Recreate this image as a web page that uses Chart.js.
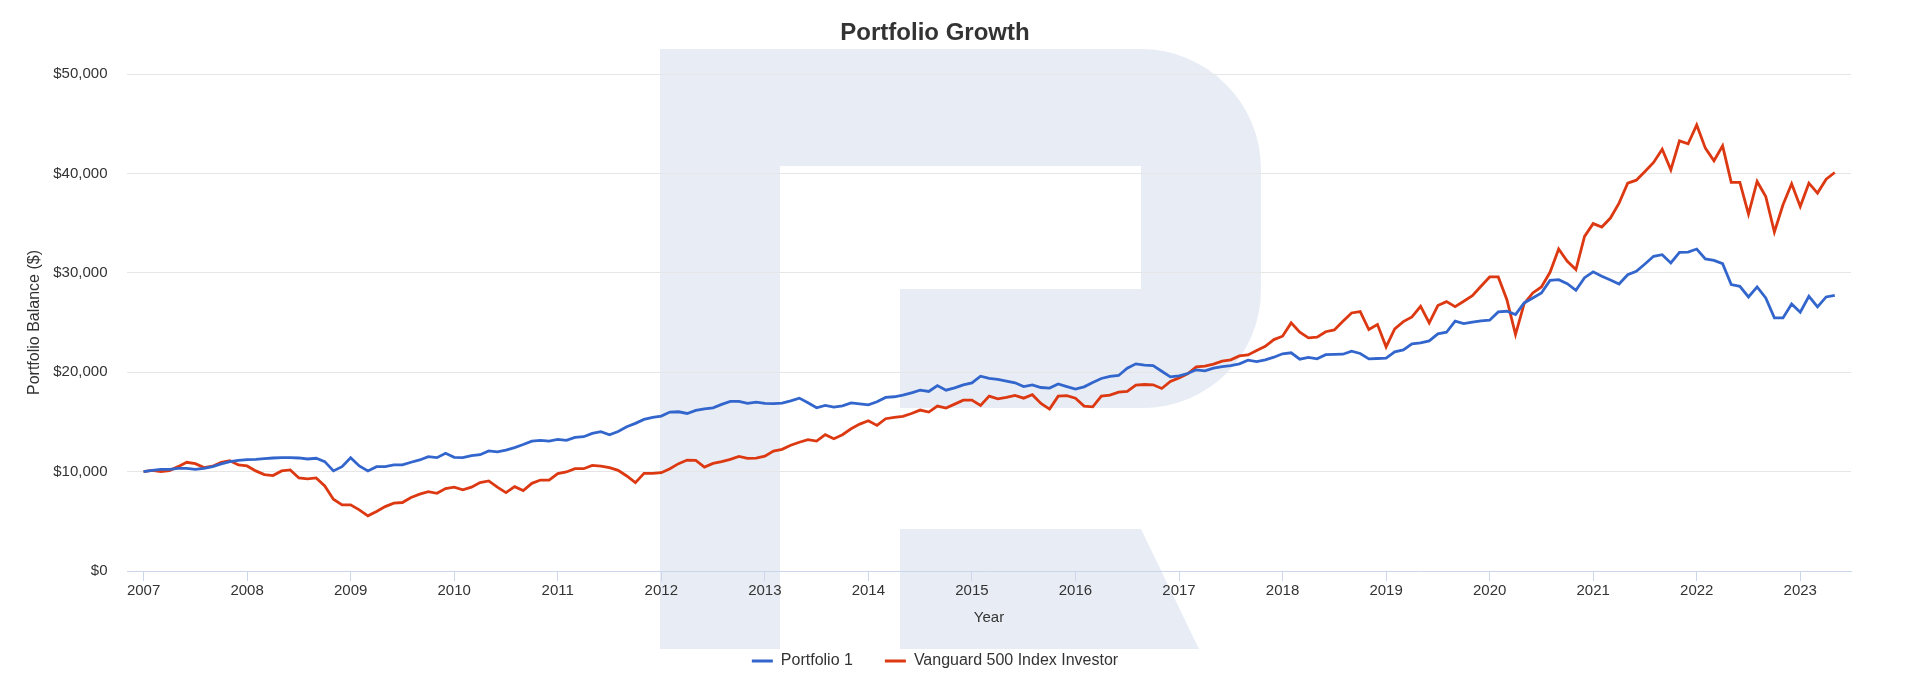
<!DOCTYPE html>
<html>
<head>
<meta charset="utf-8">
<title>Portfolio Growth</title>
<script src="https://cdn.jsdelivr.net/npm/chart.js@4/dist/chart.umd.min.js"></script>
<style>
  html, body { margin: 0; padding: 0; background: #ffffff; }
  #wrap { position: relative; width: 1920px; height: 699px; overflow: hidden; }
  #mark { position: absolute; left: 0; top: 0; z-index: 0; }
  #chart { position: relative; z-index: 1; }
</style>
</head>
<body>
<div id="wrap">
  <svg id="mark" width="1920" height="699" viewBox="0 0 1920 699">
    <path fill="#e8edf5" d="M660 49 H1141 A120 120 0 0 1 1261 169 V290 A118 118 0 0 1 1143 408 H900 V289 H1141 V166 H780 V649 H660 Z"/>
    <path fill="#e8edf5" d="M900 529 H1141 L1199 649 H900 Z"/>
  </svg>
  <canvas id="chart" width="1920" height="699"></canvas>
</div>
<script>
// ---- data (monthly balances, first point = Jan 2007) ----
const START_YEAR = 2007;
const yearTicks = [2007, 2008, 2009, 2010, 2011, 2012, 2013, 2014, 2015, 2016, 2017, 2018, 2019, 2020, 2021, 2022, 2023];
const seriesNames = ['Portfolio 1', 'Vanguard 500 Index Investor'];

const portfolio1 = [
  10000,10130,10230,10230,10330,10330,10230,10330,10500,10770,11000,11140,
  11200,11240,11300,11370,11400,11400,11370,11270,11340,11000,10070,10500,
  11400,10570,10070,10500,10500,10670,10670,10940,11170,11500,11400,11840,
  11440,11400,11600,11700,12080,11980,12170,12420,12720,13070,13140,13070,
  13240,13140,13440,13510,13840,14010,13710,14040,14510,14850,15250,15450,
  15580,15990,16020,15850,16150,16320,16420,16760,17060,17060,16860,16990,
  16870,16840,16890,17120,17390,16920,16420,16660,16490,16620,16920,16820,
  16720,17020,17460,17530,17690,17930,18190,18060,18660,18190,18430,18730,
  18930,19600,19370,19270,19100,18930,18560,18730,18460,18400,18810,18550,
  18300,18530,18970,19370,19570,19670,20400,20840,20710,20670,20100,19530,
  19640,19870,20240,20140,20400,20570,20670,20840,21210,21070,21240,21510,
  21850,21950,21310,21480,21340,21760,21790,21810,22110,21880,21340,21380,
  21410,22050,22250,22850,22950,23150,23850,24020,25130,24890,25030,25160,
  25230,26060,26130,25800,26970,27470,27970,29240,29310,28910,28240,29510,
  30100,29650,29280,28880,29810,30150,30890,31660,31820,30990,32060,32090,
  32390,31390,31250,30920,28810,28640,27570,28580,27470,25460,25460,26870,
  26030,27640,26570,27570,27740
];

const vanguard500 = [
  10000,10130,10000,10100,10500,10940,10800,10400,10540,10940,11100,10670,
  10570,10070,9700,9600,10070,10170,9360,9260,9360,8560,7220,6650,
  6650,6150,5550,5980,6480,6820,6890,7390,7730,7990,7820,8290,
  8430,8160,8430,8900,9060,8430,7890,8490,8090,8820,9150,9150,
  9790,9960,10290,10290,10630,10560,10390,10130,9560,8890,9820,9820,
  9890,10290,10800,11160,11130,10460,10830,11000,11230,11530,11330,11360,
  11560,12070,12240,12650,12950,13210,13070,13710,13310,13710,14310,14780,
  15120,14650,15320,15450,15550,15850,16190,15990,16590,16390,16790,17190,
  17190,16660,17590,17320,17460,17660,17390,17730,16850,16290,17590,17640,
  17390,16590,16520,17590,17690,17990,18060,18700,18760,18730,18360,19070,
  19430,19840,20540,20610,20810,21110,21240,21640,21740,22180,22610,23280,
  23620,24960,24020,23450,23520,24070,24250,25120,25960,26100,24290,24790,
  22550,24360,25090,25560,26630,24960,26700,27100,26600,27140,27700,28640,
  29580,29580,27300,23790,26900,27970,28580,30050,32390,31150,30320,33660,
  34950,34600,35510,37010,39020,39320,40190,41100,42440,40360,43270,42970,
  44880,42540,41270,42770,39090,39090,35910,39190,37680,34100,36850,38960,
  36680,39020,38020,39420,40090
];

// ---- build library data from the arrays ----
function toPoints(values) {
  return values.map((v, i) => ({ x: START_YEAR + i / 12, y: v }));
}

const FONT = '"Liberation Sans", Arial, Helvetica, sans-serif';
const BLUE = '#3366cc';
const RED = '#dc3912';

new Chart(document.getElementById('chart'), {
  type: 'line',
  data: {
    datasets: [
      { label: seriesNames[0], data: toPoints(portfolio1), borderColor: BLUE, backgroundColor: BLUE,
        borderWidth: 2.8, pointRadius: 0, pointHoverRadius: 0, tension: 0, fill: false },
      { label: seriesNames[1], data: toPoints(vanguard500), borderColor: RED, backgroundColor: RED,
        borderWidth: 2.8, pointRadius: 0, pointHoverRadius: 0, tension: 0, fill: false }
    ]
  },
  options: {
    responsive: false,
    animation: false,
    events: [],
    layout: { padding: { top: 0, left: 19, right: 69, bottom: 20 } },
    plugins: {
      title: {
        display: true,
        text: 'Portfolio Growth',
        color: '#333333',
        font: { family: FONT, size: 24, weight: 'bold' },
        padding: { top: 19.4, bottom: 25.8 }
      },
      legend: {
        display: true,
        position: 'bottom',
        labels: {
          color: '#333333',
          font: { family: FONT, size: 16 },
          boxWidth: 21,
          boxHeight: 3,
          padding: 32,
          generateLabels(chart) {
            const items = Chart.defaults.plugins.legend.labels.generateLabels(chart);
            items.forEach(it => { it.lineWidth = 0; it.fillStyle = it.strokeStyle; });
            return items;
          }
        }
      },
      tooltip: { enabled: false }
    },
    scales: {
      x: {
        type: 'linear',
        position: 'bottom',
        min: 2006.84,
        max: 2023.49,
        afterBuildTicks(scale) { scale.ticks = yearTicks.map(v => ({ value: v })); },
        afterFit(scale) { scale.height = 50; },
        ticks: {
          autoSkip: false,
          maxRotation: 0,
          padding: 1.2,
          color: '#333333',
          font: { family: FONT, size: 15 },
          callback: (v) => String(v)
        },
        grid: { drawOnChartArea: false, drawTicks: true, tickLength: 10, color: '#ccd6eb', lineWidth: 1 },
        border: { display: true, color: '#ccd6eb', width: 1 },
        title: {
          display: true, text: 'Year', color: '#333333',
          font: { family: FONT, size: 15 },
          padding: { top: 0, bottom: -6 }
        }
      },
      y: {
        min: 0,
        max: 50000,
        afterFit(scale) { scale.width = 108; },
        ticks: {
          stepSize: 10000,
          padding: 19.5,
          color: '#333333',
          font: { family: FONT, size: 15 },
          callback: (v) => '$' + Number(v).toLocaleString('en-US')
        },
        grid: {
          drawTicks: false,
          color: (ctx) => (ctx.tick && ctx.tick.value === 0) ? 'rgba(0,0,0,0)' : '#e6e6e6',
          lineWidth: 1
        },
        border: { display: false },
        title: {
          display: true, text: 'Portfolio Balance ($)', color: '#333333',
          font: { family: FONT, size: 16 },
          padding: { top: 6.4, bottom: 0 }
        }
      }
    }
  }
});
</script>
</body>
</html>
